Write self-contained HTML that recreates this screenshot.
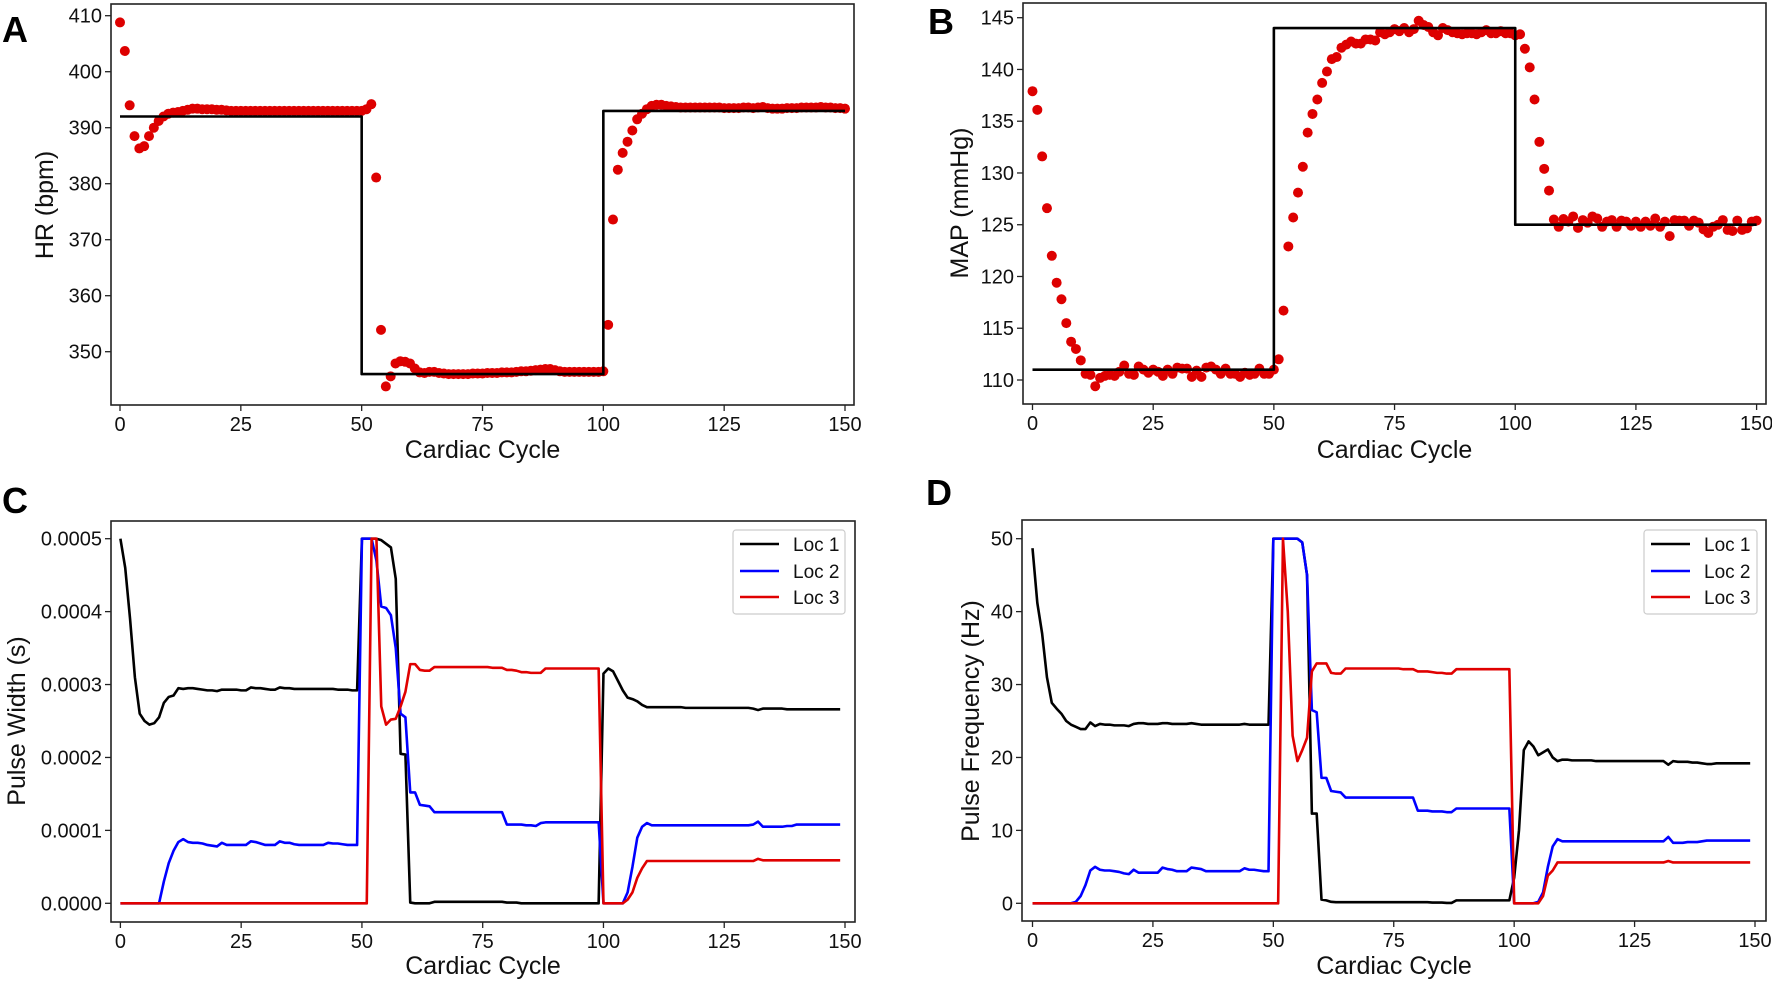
<!DOCTYPE html>
<html><head><meta charset="utf-8"><style>
html,body{margin:0;padding:0;background:#fff;}
svg{display:block;font-family:"Liberation Sans",Arial,sans-serif;}
</style></head><body>
<svg id="fig" width="1772" height="983" viewBox="0 0 1772 983" xmlns="http://www.w3.org/2000/svg"></svg>
<script>
const cycles = Array.from({length:151},(_,i)=>i);
const xTicks = [0,25,50,75,100,125,150];
const hrTicks = [350,360,370,380,390,400,410];
const mapTicks = [110,115,120,125,130,135,140,145];
const pwTicks = [0,1,2,3,4,5];
const pwTickLabels = ["0.0000","0.0001","0.0002","0.0003","0.0004","0.0005"];
const pfTicks = [0,10,20,30,40,50];
const hrTargetX = [0,50,50,100,100,150];
const hrTargetY = [392,392,346,346,393,393];
const mapTargetX = [0,50,50,100,100,150];
const mapTargetY = [111,111,144,144,125,125];
const legendLabels = ["Loc 1","Loc 2","Loc 3"];
const hr = [408.8,403.7,394,388.5,386.3,386.7,388.5,390,391.2,392,
392.5,392.7,392.8,393,393.2,393.4,393.4,393.3,393.3,393.3,
393.2,393.2,393.1,393,393,393,393,393,393,393,
393,393,393,393,393,393,393,393,393,393,
393,393,393,393,393,393,393,393,393,393,
393,393.3,394.2,381.1,353.9,343.8,345.6,347.9,348.3,348.2,
347.9,347,346.3,346.2,346.4,346.4,346.2,346.1,346,346,
346,346,346,346.1,346.1,346.1,346.2,346.2,346.2,346.3,
346.3,346.3,346.4,346.5,346.5,346.6,346.7,346.8,346.9,346.9,
346.7,346.5,346.4,346.4,346.4,346.4,346.4,346.4,346.4,346.4,
346.5,354.8,373.6,382.5,385.5,387.5,389.5,391.5,392.5,393.3,
393.9,394.1,394.1,393.9,393.8,393.7,393.6,393.6,393.6,393.6,
393.6,393.6,393.6,393.6,393.6,393.5,393.5,393.5,393.5,393.6,
393.6,393.5,393.6,393.7,393.5,393.4,393.4,393.4,393.5,393.5,
393.5,393.6,393.6,393.6,393.6,393.7,393.6,393.6,393.5,393.5,393.4];
const map = [137.9,136.1,131.6,126.6,122,119.4,117.8,115.5,113.7,113,
111.9,110.6,110.5,109.4,110.2,110.4,110.5,110.4,110.8,111.4,
110.6,110.5,111.3,111,110.7,111,110.8,110.4,111,110.6,
111.2,111.1,111.1,110.3,110.9,110.3,111.2,111.3,111,110.6,
111.1,110.6,110.6,110.3,110.7,110.5,110.6,111.1,110.6,110.6,
111,112,116.7,122.9,125.7,128.1,130.6,133.9,135.7,137.1,
138.7,139.8,141,141.2,142.1,142.4,142.7,142.5,142.5,142.9,
142.9,142.8,143.6,143.4,143.6,143.9,143.7,144,143.6,143.9,
144.7,144.3,144.1,143.6,143.3,144,143.8,143.6,143.5,143.4,
143.5,143.5,143.4,143.6,143.8,143.5,143.5,143.7,143.5,143.5,
143.3,143.4,142,140.2,137.1,133,130.4,128.3,125.5,124.8,
125.55,125.3,125.8,124.7,125.45,125.2,125.8,125.6,124.8,125.3,
125.45,124.8,125.4,125.3,124.9,125.3,124.8,125.3,124.9,125.6,
124.8,125.3,123.9,125.45,125.4,125.4,124.9,125.4,125.2,124.55,
124.2,124.8,125,125.45,124.5,124.4,125.4,124.5,124.65,125.3,125.4];
// pulse width in units of 1e-4 s
const pwLoc1 = [5,4.6,3.9,3.1,2.6,2.5,2.45,2.47,2.55,2.75,
2.83,2.85,2.95,2.94,2.95,2.95,2.94,2.93,2.92,2.92,
2.91,2.93,2.93,2.93,2.93,2.92,2.92,2.96,2.95,2.95,
2.94,2.93,2.93,2.96,2.95,2.95,2.94,2.94,2.94,2.94,
2.94,2.94,2.94,2.94,2.94,2.93,2.93,2.93,2.92,2.92,
5,5,5,5,4.98,4.93,4.88,4.45,2.05,2.04,
0.01,0,0,0,0,0.02,0.02,0.02,0.02,0.02,
0.02,0.02,0.02,0.02,0.02,0.02,0.02,0.02,0.02,0.02,
0.01,0.01,0.01,0,0,0,0,0,0,0,
0,0,0,0,0,0,0,0,0,0,
3.15,3.22,3.18,3.05,2.92,2.82,2.8,2.77,2.72,2.69,
2.69,2.69,2.69,2.69,2.69,2.69,2.69,2.68,2.68,2.68,
2.68,2.68,2.68,2.68,2.68,2.68,2.68,2.68,2.68,2.68,
2.68,2.67,2.65,2.67,2.67,2.67,2.67,2.67,2.66,2.66,
2.66,2.66,2.66,2.66,2.66,2.66,2.66,2.66,2.66,2.66];
const pwLoc2 = [0,0,0,0,0,0,0,0,0,0.3,
0.55,0.72,0.84,0.88,0.84,0.83,0.83,0.82,0.8,0.79,
0.78,0.83,0.8,0.8,0.8,0.8,0.8,0.85,0.84,0.82,
0.8,0.8,0.8,0.85,0.83,0.83,0.81,0.8,0.8,0.8,
0.8,0.8,0.8,0.83,0.82,0.82,0.81,0.8,0.8,0.8,
5,5,5,4.7,4.07,4.05,3.95,3.5,2.6,2.55,
1.52,1.52,1.35,1.34,1.33,1.25,1.25,1.25,1.25,1.25,
1.25,1.25,1.25,1.25,1.25,1.25,1.25,1.25,1.25,1.25,
1.08,1.08,1.08,1.08,1.07,1.07,1.06,1.1,1.11,1.11,
1.11,1.11,1.11,1.11,1.11,1.11,1.11,1.11,1.11,1.11,
0,0,0,0,0,0.15,0.5,0.9,1.05,1.1,
1.07,1.07,1.07,1.07,1.07,1.07,1.07,1.07,1.07,1.07,
1.07,1.07,1.07,1.07,1.07,1.07,1.07,1.07,1.07,1.07,
1.07,1.08,1.12,1.05,1.05,1.05,1.05,1.05,1.06,1.06,
1.08,1.08,1.08,1.08,1.08,1.08,1.08,1.08,1.08,1.08];
const pwLoc3 = [0,0,0,0,0,0,0,0,0,0,
0,0,0,0,0,0,0,0,0,0,
0,0,0,0,0,0,0,0,0,0,
0,0,0,0,0,0,0,0,0,0,
0,0,0,0,0,0,0,0,0,0,
0,0,5,5,2.7,2.45,2.52,2.53,2.7,2.9,
3.28,3.28,3.2,3.19,3.19,3.24,3.24,3.24,3.24,3.24,
3.24,3.24,3.24,3.24,3.24,3.24,3.24,3.23,3.23,3.23,
3.2,3.2,3.19,3.17,3.17,3.16,3.16,3.16,3.22,3.22,
3.22,3.22,3.22,3.22,3.22,3.22,3.22,3.22,3.22,3.22,
0,0,0,0,0,0.05,0.15,0.35,0.48,0.58,
0.58,0.58,0.58,0.58,0.58,0.58,0.58,0.58,0.58,0.58,
0.58,0.58,0.58,0.58,0.58,0.58,0.58,0.58,0.58,0.58,
0.58,0.58,0.61,0.59,0.59,0.59,0.59,0.59,0.59,0.59,
0.59,0.59,0.59,0.59,0.59,0.59,0.59,0.59,0.59,0.59];
const pfLoc1 = [48.7,41.2,37,31,27.5,26.7,26,25,24.5,24.2,
23.9,23.9,24.8,24.3,24.6,24.5,24.5,24.4,24.4,24.4,
24.3,24.6,24.7,24.7,24.6,24.6,24.6,24.7,24.7,24.6,
24.6,24.6,24.6,24.7,24.6,24.5,24.5,24.5,24.5,24.5,
24.5,24.5,24.5,24.5,24.6,24.5,24.5,24.5,24.5,24.5,
50,50,50,50,50,50,49.5,45,12.3,12.3,
0.5,0.4,0.2,0.15,0.15,0.15,0.15,0.15,0.15,0.15,
0.15,0.15,0.15,0.15,0.15,0.15,0.15,0.15,0.15,0.15,
0.15,0.15,0.15,0.1,0.1,0.1,0.05,0.05,0.4,0.4,
0.4,0.4,0.4,0.4,0.4,0.4,0.4,0.4,0.4,0.4,
3.5,10,21,22.2,21.5,20.3,20.7,21.1,20,19.5,
19.7,19.7,19.6,19.6,19.6,19.6,19.6,19.5,19.5,19.5,
19.5,19.5,19.5,19.5,19.5,19.5,19.5,19.5,19.5,19.5,
19.5,19.5,19,19.5,19.4,19.4,19.4,19.3,19.3,19.2,
19.1,19.1,19.2,19.2,19.2,19.2,19.2,19.2,19.2,19.2];
const pfLoc2 = [0,0,0,0,0,0,0,0,0,0.2,
1,2.5,4.5,5,4.6,4.5,4.5,4.4,4.3,4.1,
4,4.6,4.2,4.2,4.2,4.2,4.2,4.9,4.7,4.6,
4.4,4.4,4.4,4.9,4.8,4.7,4.4,4.4,4.4,4.4,
4.4,4.4,4.4,4.4,4.8,4.6,4.6,4.5,4.4,4.4,
50,50,50,50,50,50,49.5,45,26.5,26.2,
17.2,17.2,15.4,15.3,15.2,14.5,14.5,14.5,14.5,14.5,
14.5,14.5,14.5,14.5,14.5,14.5,14.5,14.5,14.5,14.5,
12.7,12.7,12.7,12.6,12.6,12.6,12.5,12.5,13,13,
13,13,13,13,13,13,13,13,13,13,
0,0,0,0,0,0.2,1.5,5,7.8,8.8,
8.5,8.5,8.5,8.5,8.5,8.5,8.5,8.5,8.5,8.5,
8.5,8.5,8.5,8.5,8.5,8.5,8.5,8.5,8.5,8.5,
8.5,8.5,9.1,8.3,8.3,8.3,8.4,8.4,8.4,8.5,
8.6,8.6,8.6,8.6,8.6,8.6,8.6,8.6,8.6,8.6];
const pfLoc3 = [0,0,0,0,0,0,0,0,0,0,
0,0,0,0,0,0,0,0,0,0,
0,0,0,0,0,0,0,0,0,0,
0,0,0,0,0,0,0,0,0,0,
0,0,0,0,0,0,0,0,0,0,
0,0,50,40,23,19.5,21,22.7,31.8,32.9,
32.9,32.9,31.6,31.5,31.5,32.2,32.2,32.2,32.2,32.2,
32.2,32.2,32.2,32.2,32.2,32.2,32.2,32.1,32.1,32.1,
31.8,31.8,31.8,31.7,31.6,31.6,31.5,31.5,32.1,32.1,
32.1,32.1,32.1,32.1,32.1,32.1,32.1,32.1,32.1,32.1,
0,0,0,0,0,0,1,3.8,4.5,5.6,
5.6,5.6,5.6,5.6,5.6,5.6,5.6,5.6,5.6,5.6,
5.6,5.6,5.6,5.6,5.6,5.6,5.6,5.6,5.6,5.6,
5.6,5.6,5.8,5.6,5.6,5.6,5.6,5.6,5.6,5.6,
5.6,5.6,5.6,5.6,5.6,5.6,5.6,5.6,5.6,5.6];

const NS = "http://www.w3.org/2000/svg";
const svg = document.getElementById('fig');
function mk(tag, attrs, parent){
  const e = document.createElementNS(NS, tag);
  for (const k in attrs) e.setAttribute(k, attrs[k]);
  (parent||svg).appendChild(e);
  return e;
}
function lin(d0,d1,r0,r1){ return v => r0 + (v-d0)/(d1-d0)*(r1-r0); }

function panel(cfg){
  const g = mk('g', {});
  
  
  const X = lin(0,150,cfg.x0,cfg.x150);
  const Y = lin(cfg.yd0,cfg.yd1,cfg.yr0,cfg.yr1);
  // frame
  const fr = mk('rect', {x:cfg.box[0], y:cfg.box[1], width:cfg.box[2]-cfg.box[0], height:cfg.box[3]-cfg.box[1], fill:'#fff', stroke:'#222', 'stroke-width':1.6}, g);
  
  
  // x ticks
  xTicks.forEach(t=>{
    const x = X(t);
    mk('line', {x1:x, x2:x, y1:cfg.box[3], y2:cfg.box[3]+6, stroke:'#222', 'stroke-width':1.3}, g);
    const tx = mk('text', {x:x, y:cfg.box[3]+26, 'font-size':20, 'text-anchor':'middle', fill:'#111'}, g);
    tx.textContent = t;
    
    
  });
  cfg.yTicks.forEach((t,i)=>{
    const y = Y(t);
    mk('line', {x1:cfg.box[0]-6, x2:cfg.box[0], y1:y, y2:y, stroke:'#222', 'stroke-width':1.3}, g);
    const tx = mk('text', {x:cfg.box[0]-9, y:y+7, 'font-size':20, 'text-anchor':'end', fill:'#111'}, g);
    tx.textContent = cfg.yLabels ? cfg.yLabels[i] : t;
    
    
  });
  const xt = mk('text', {x:(cfg.box[0]+cfg.box[2])/2, y:cfg.xTitleY, 'font-size':25, 'text-anchor':'middle', fill:'#111'}, g);
  xt.textContent = 'Cardiac Cycle';
  
  
  const yt = mk('text', {x:0, y:0, 'font-size':25, 'text-anchor':'middle', fill:'#111', transform:`translate(${cfg.yTitleX},${cfg.yTitleCY}) rotate(-90)`}, g);
  yt.textContent = cfg.yTitle;
  
  
  const lt = mk('text', {x:cfg.letter[0], y:cfg.letter[1], 'font-size':36, 'font-weight':'bold', fill:'#000'}, g);
  lt.textContent = cfg.letterText;
  
  
  return {g, X, Y};
}
function polyline(g, xs, ys, X, Y, color, name){
  const pts = xs.map((x,i)=>X(x).toFixed(2)+','+Y(ys[i]).toFixed(2)).join(' ');
  const p = mk('polyline', {points:pts, fill:'none', stroke:color, 'stroke-width':2.6, 'stroke-linejoin':'round'}, g);
  
  
  return p;
}
function legend(g, box, lineX, textX, rows){
  const lg = mk('g', {}, g);
  
  
  mk('rect', {x:box[0], y:box[1], width:box[2]-box[0], height:box[3]-box[1], rx:3, fill:'#fff', stroke:'#ccc', 'stroke-width':1.2}, lg);
  const colors = ['#000','#0000ff','#e00000'];
  legendLabels.forEach((lab,i)=>{
    const y = rows[i];
    const e = mk('g', {}, lg);
    
    
    mk('line', {x1:lineX[0], x2:lineX[1], y1:y, y2:y, stroke:colors[i], 'stroke-width':2.6}, e);
    const t = mk('text', {x:textX, y:y+7, 'font-size':19, fill:'#111'}, e);
    t.textContent = lab;
  });
}

// Panel A
(function(){
  const p = panel({name:'panel-a-heart-rate', box:[111,4,854,405], x0:120, x150:845, yd0:350, yd1:410, yr0:351.7, yr1:15.7,
    yTicks:hrTicks, xTitleY:458, yTitle:'HR (bpm)', yTitleX:53, yTitleCY:205, letter:[2,42], letterText:'A'});
  hr.forEach((v,i)=>{
    const c = mk('circle', {cx:p.X(cycles[i]), cy:p.Y(v), r:5, fill:'#dd0000'}, p.g);
    
    
  });
  polyline(p.g, hrTargetX, hrTargetY, p.X, p.Y, '#000', 'hr-target-line');
})();
// Panel B
(function(){
  const p = panel({name:'panel-b-map', box:[1023,3,1766,404], x0:1032.5, x150:1756.6, yd0:110, yd1:145, yr0:380, yr1:17.7,
    yTicks:mapTicks, xTitleY:458, yTitle:'MAP (mmHg)', yTitleX:968, yTitleCY:203, letter:[928,34], letterText:'B'});
  map.forEach((v,i)=>{
    const c = mk('circle', {cx:p.X(cycles[i]), cy:p.Y(v), r:5, fill:'#dd0000'}, p.g);
    
    
  });
  polyline(p.g, mapTargetX, mapTargetY, p.X, p.Y, '#000', 'map-target-line');
})();
// Panel C
(function(){
  const p = panel({name:'panel-c-pulse-width', box:[111,521,855,922], x0:120.4, x150:845, yd0:0, yd1:5, yr0:903.3, yr1:538.7,
    yTicks:pwTicks, yLabels:pwTickLabels, xTitleY:974, yTitle:'Pulse Width (s)', yTitleX:25, yTitleCY:721, letter:[2,513], letterText:'C'});
  const xs = cycles.slice(0,150);
  polyline(p.g, xs, pwLoc1, p.X, p.Y, '#000', 'pw-loc1-line');
  polyline(p.g, xs, pwLoc2, p.X, p.Y, '#0000ff', 'pw-loc2-line');
  polyline(p.g, xs, pwLoc3, p.X, p.Y, '#e00000', 'pw-loc3-line');
  legend(p.g, [733,530,845,614], [740,779], 793, [544,571,597]);
})();
// Panel D
(function(){
  const p = panel({name:'panel-d-pulse-frequency', box:[1022,520,1766,921], x0:1032.5, x150:1755, yd0:0, yd1:50, yr0:903.3, yr1:538.7,
    yTicks:pfTicks, xTitleY:974, yTitle:'Pulse Frequency (Hz)', yTitleX:979, yTitleCY:721, letter:[926,505], letterText:'D'});
  const xs = cycles.slice(0,150);
  polyline(p.g, xs, pfLoc1, p.X, p.Y, '#000', 'pf-loc1-line');
  polyline(p.g, xs, pfLoc2, p.X, p.Y, '#0000ff', 'pf-loc2-line');
  polyline(p.g, xs, pfLoc3, p.X, p.Y, '#e00000', 'pf-loc3-line');
  legend(p.g, [1644,530,1757,614], [1651,1690], 1704, [544,571,597]);
})();
</script>
</body></html>
